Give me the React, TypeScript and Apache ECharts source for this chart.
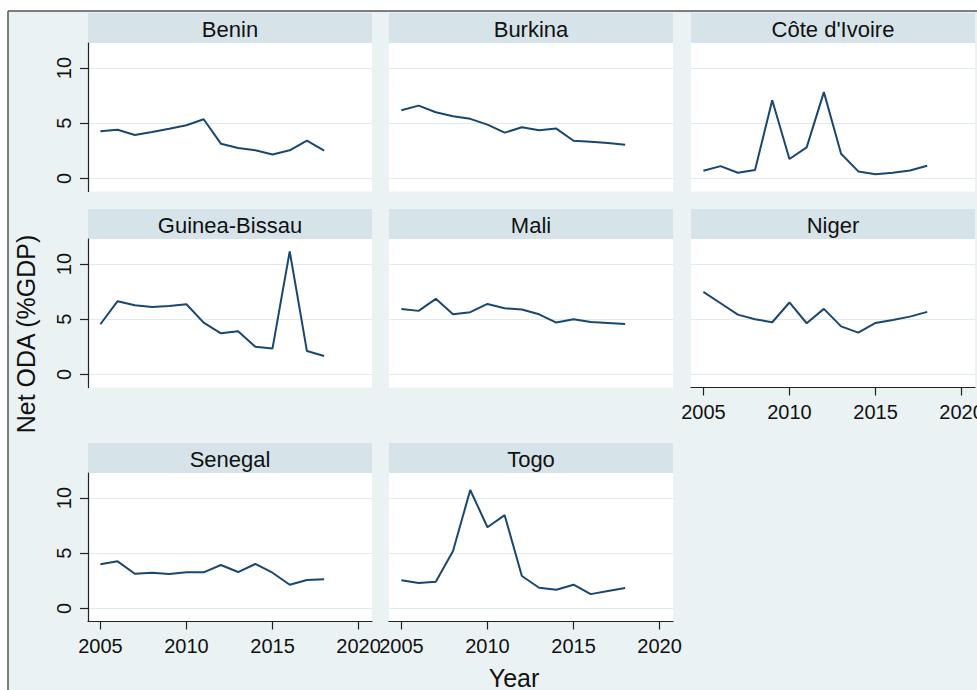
import React, { useEffect, useRef } from "react";
import * as echarts from "echarts";

const years = [2005, 2006, 2007, 2008, 2009, 2010, 2011, 2012, 2013, 2014, 2015, 2016, 2017, 2018];

const benin = [4.27, 4.42, 3.94, 4.2, 4.5, 4.82, 5.36, 3.15, 2.76, 2.55, 2.18, 2.55, 3.42, 2.52];
const burkina = [6.18, 6.6, 6.0, 5.64, 5.4, 4.88, 4.15, 4.64, 4.36, 4.52, 3.42, 3.33, 3.21, 3.06];
const coteIvoire = [0.7, 1.12, 0.52, 0.76, 7.09, 1.76, 2.82, 7.82, 2.24, 0.64, 0.39, 0.52, 0.73, 1.15];
const guineaBissau = [4.55, 6.64, 6.27, 6.12, 6.21, 6.36, 4.7, 3.73, 3.91, 2.52, 2.36, 11.15, 2.12, 1.67];
const mali = [5.94, 5.76, 6.85, 5.45, 5.64, 6.39, 6.0, 5.88, 5.45, 4.7, 5.0, 4.76, 4.67, 4.58];
const niger = [7.48, 6.45, 5.42, 5.0, 4.73, 6.52, 4.64, 5.94, 4.36, 3.79, 4.67, 4.94, 5.24, 5.67];
const senegal = [4.0, 4.27, 3.15, 3.24, 3.12, 3.27, 3.27, 3.94, 3.3, 4.03, 3.24, 2.15, 2.58, 2.64];
const togo = [2.55, 2.3, 2.42, 5.21, 10.73, 7.36, 8.45, 2.94, 1.88, 1.7, 2.15, 1.3, 1.58, 1.85];

const countries = ["Benin", "Burkina", "Côte d'Ivoire", "Guinea-Bissau", "Mali", "Niger", "Senegal", "Togo"];
const values = [benin, burkina, coteIvoire, guineaBissau, mali, niger, senegal, togo];

const xTicks = [2005, 2010, 2015, 2020];
const yTicks = [0, 5, 10];
const xTitle = "Year";
const yTitle = "Net ODA (%GDP)";

const FONT = "'Liberation Sans', Arial, sans-serif";
const BG = "#EAF2F3";
const STRIP = "#D6E4EA";
const GRIDLINE = "#DFEBEF";
const LINE = "#1A476F";

const colLeft = [88, 389, 691];
const rowTop = [43, 239, 473];
const W = 284;
const H = 148.5;
const STRIP_H = 30;
// which panels carry x-axis labels
const bottomPanels = ["Senegal", "Togo", "Niger"];

export default function App() {
  const ref = useRef<HTMLDivElement>(null);
  useEffect(() => {
    if (!ref.current) return;
    const chart = echarts.init(ref.current, undefined, { renderer: "svg" });
    const grids: any[] = [];
    const xAxes: any[] = [];
    const yAxes: any[] = [];
    const series: any[] = [];
    const graphics: any[] = [];

    graphics.push({ type: "rect", shape: { x: 0, y: 0, width: 977, height: 11 }, style: { fill: "#fff" }, silent: true });
    graphics.push({ type: "rect", shape: { x: 0, y: 0, width: 8, height: 690 }, style: { fill: "#fff" }, silent: true });
    graphics.push({ type: "line", shape: { x1: 8, y1: 11, x2: 977, y2: 11 }, style: { stroke: "#555", lineWidth: 1.5 }, silent: true });
    graphics.push({ type: "line", shape: { x1: 8, y1: 11, x2: 8, y2: 690 }, style: { stroke: "#555", lineWidth: 1.5 }, silent: true });

    countries.forEach((name, i) => {
      const row = Math.floor(i / 3);
      const col = i % 3;
      const left = colLeft[col];
      const top = rowTop[row];
      grids.push({
        left,
        top,
        width: W,
        height: H,
        show: true,
        backgroundColor: "#fff",
        borderWidth: 0,
        containLabel: false,
        outerBoundsMode: "none",
      });
      const showX = bottomPanels.includes(name);
      xAxes.push({
        type: "value",
        gridIndex: i,
        min: 2004.28,
        max: 2020.78,
        axisLine: { show: showX, onZero: false, lineStyle: { color: "#222", width: 1.2 } },
        axisTick: { show: showX, length: 8, customValues: xTicks, lineStyle: { color: "#222", width: 1.2 } },
        axisLabel: {
          show: showX,
          customValues: xTicks,
          formatter: (v: number) => String(v),
          fontFamily: FONT,
          fontSize: 20,
          color: "#111",
          margin: 14,
          hideOverlap: false,
        },
        splitLine: { show: false },
      });
      const showY = col === 0;
      yAxes.push({
        type: "value",
        gridIndex: i,
        min: -1.18,
        max: 12.27,
        axisLine: { show: showY, onZero: false, lineStyle: { color: "#222", width: 1.2 } },
        axisTick: { show: showY, length: 8, customValues: yTicks, lineStyle: { color: "#222", width: 1.2 } },
        axisLabel: {
          show: showY,
          customValues: yTicks,
          rotate: 90,
          fontFamily: FONT,
          fontSize: 20,
          color: "#111",
          margin: 14,
        },
        splitLine: { show: true, lineStyle: { color: GRIDLINE, width: 1.2 } },
      });
      series.push({
        type: "line",
        name,
        xAxisIndex: i,
        yAxisIndex: i,
        data: years.map((y, j) => [y, values[i][j]]),
        showSymbol: false,
        symbol: "none",
        lineStyle: { color: LINE, width: 2 },
        itemStyle: { color: LINE },
      });
      graphics.push({
        type: "group",
        silent: true,
        children: [
          { type: "rect", shape: { x: left, y: top - STRIP_H, width: W, height: STRIP_H }, style: { fill: STRIP } },
          {
            type: "text",
            x: left + W / 2,
            y: top - STRIP_H / 2 + 1,
            style: { text: name, fontFamily: FONT, fontSize: 22, fill: "#111", align: "center", verticalAlign: "middle" },
          },
        ],
      });
    });

    graphics.push({
      type: "text",
      x: 26,
      y: 334,
      rotation: Math.PI / 2,
      silent: true,
      style: { text: yTitle, fontFamily: FONT, fontSize: 25, fill: "#111", align: "center", verticalAlign: "middle" },
    });
    graphics.push({
      type: "text",
      x: 514,
      y: 678,
      silent: true,
      style: { text: xTitle, fontFamily: FONT, fontSize: 25, fill: "#111", align: "center", verticalAlign: "middle" },
    });

    chart.setOption({
      animation: false,
      backgroundColor: BG,
      grid: grids,
      xAxis: xAxes,
      yAxis: yAxes,
      series,
      graphic: graphics,
    });
    return () => chart.dispose();
  }, []);
  return <div ref={ref} style={{ position: "fixed", left: 0, top: 0, width: 977, height: 690 }} />;
}
